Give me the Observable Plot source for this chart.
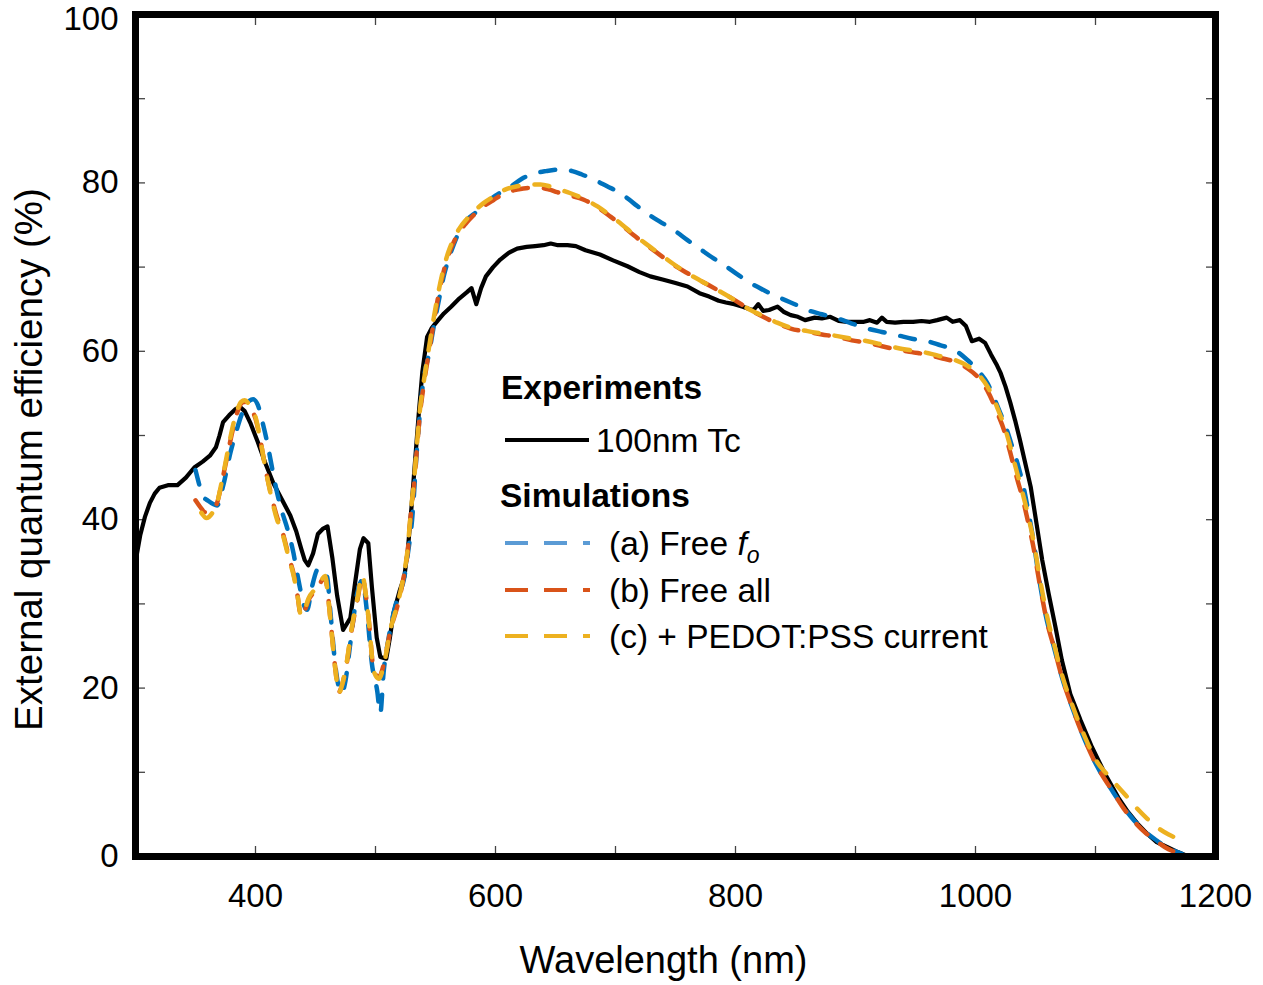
<!DOCTYPE html>
<html><head><meta charset="utf-8">
<script src="https://cdn.jsdelivr.net/npm/d3@7"></script>
<script src="https://cdn.jsdelivr.net/npm/@observablehq/plot@0.6"></script>
<style>
body{margin:0;background:#fff;}
#chart svg{display:block;}
</style></head><body><div id="chart"></div>
<script>
// ---------- data ----------
const expWl = [300,304,308,312,316,320,327,335,342,349,356,362,367,370,373,378,383,387,391,396,402,408,415,422,429,434,438,441,444,448,452,456,460,464,468,473,479,483,487,490,494,497,501,504,509,512,515,520,524,527,530,533,536,539,543,547,551,557,563,570,576,580,584,588,592,598,604,611,618,626,633,640,646,652,660,667,675,687,698,710,720,729,740,750,760,770,778,786,792,799,806,812,815,819,823,828,835,840,846,852,858,866,872,879,886,893,900,907,912,918,922,926,933,940,948,955,962,968,976,981,987,992,997,1003,1008,1013,1018,1021,1025,1029,1033,1037,1041,1046,1051,1055.6,1061,1066.7,1072,1079,1087.5,1097,1108,1119,1127,1135,1143,1151,1160,1169,1176];
const expEqe = [35.0,38.2,40.4,42.0,43.1,43.8,44.1,44.1,45.0,46.2,46.9,47.6,48.6,50.0,51.6,52.4,53.1,53.4,52.9,51.4,49.2,46.8,44.3,42.4,40.5,38.6,36.6,35.2,34.6,36.0,38.3,38.9,39.2,35.5,31.0,26.9,28.3,32.5,36.5,37.8,37.2,32.0,26.0,23.7,23.5,26.0,28.9,31.5,33.2,36.5,41.5,47.0,52.5,57.5,61.7,62.8,63.5,64.5,65.3,66.3,67.0,67.5,65.6,67.5,68.9,70.0,70.9,71.7,72.2,72.4,72.5,72.6,72.8,72.6,72.6,72.5,72.0,71.5,70.8,70.1,69.4,68.9,68.5,68.1,67.7,66.9,66.5,66.0,65.8,65.6,65.3,65.0,64.9,65.6,64.8,64.9,65.3,64.7,64.3,64.1,63.7,64.0,63.9,64.1,63.6,63.5,63.5,63.5,63.7,63.4,64.0,63.5,63.4,63.5,63.5,63.6,63.5,63.7,64.0,63.5,63.7,63.0,61.2,61.5,61.0,59.6,58.3,57.4,55.8,53.9,51.8,49.5,47.0,43.9,39.4,35.2,31.2,27.2,23.3,19.3,16.2,13.0,9.8,7.0,5.3,3.9,2.7,1.7,1.1,0.5,0.1];

const simAWl = [350,352.5,356,360,368,373,379,384,389,394,398,402,406,410,414,418,422,426,431.7,434.5,437.5,440,443,447,452.5,456,459.7,462.5,466.7,470,472,475,479,484.7,489,493,497,501.4,504,506.7,511,515,519,523.5,527,530.5,534.7,540,544.4,548.6,553,557,561,565,570,576,582,590,600,612,622,632,642,654,664,672,682,693,704,715,726,737,748.6,760,771,780,790,801,812.5,823,834.7,846,854,860,872,885,897,910,922,935,947,960,971,982,993,1004,1010,1015,1020,1026,1031,1035,1040,1044,1048,1052.8,1058.3,1065.3,1072,1080.6,1090,1101,1114,1123,1132,1141,1151,1158,1165,1172];
const simAEqe = [45.9,44.5,42.8,42.3,41.7,44.0,47.9,50.5,52.7,54.0,54.3,53.6,51.5,49.0,46.0,43.2,41.0,39.2,36.0,33.8,31.6,30.0,29.3,32.0,34.2,34.0,33.2,28.9,22.5,19.8,19.4,20.9,25.3,31.2,32.8,28.9,22.9,19.7,17.0,21.8,26.0,28.9,31.0,32.8,36.0,40.0,48.7,56.6,59.6,63.0,66.2,69.0,71.0,72.6,74.3,75.6,76.3,77.4,78.5,79.5,80.5,81.1,81.4,81.6,81.4,81.0,80.4,79.6,78.8,77.6,76.4,75.4,74.4,73.2,72.1,71.2,70.3,69.2,68.1,67.3,66.5,65.8,65.3,64.9,64.4,63.9,63.3,62.7,62.3,61.9,61.5,61.2,60.7,60.2,59.0,57.4,56.2,54.6,52.9,50.7,48.5,46.7,43.9,41.0,37.8,33.2,28.8,24.9,21.3,17.7,14.2,10.8,7.8,5.9,4.3,3.0,1.9,1.2,0.7,0.3];

const simBWl = [350,354,358,363,368,372,376.4,380,384.7,388,391,395,400,404,408,413,418,422,425,428,431.7,435,438,441,444,450,454,458,460,462.5,466.7,469.4,472,475,480.6,485,489,492,494.4,498.6,502.8,507,512.5,518,523.5,527,529,532,534.7,537,540,544.4,548.6,552.8,557,561,565,570,576,582,590,598.6,608,618,628,637.5,645,651.4,662,673.6,685,695.8,705,715,726,737.5,748,759.7,772,784.7,798,812.5,823,834.7,846,860,872,885,897,910,922,935,947,960,971,982,993,1004,1010,1015,1019,1023.6,1028,1032,1035,1039,1044,1048.6,1052,1056,1060,1065.3,1072,1080.6,1090,1101,1114,1123,1132,1141,1151,1158,1165,1172];
const simBEqe = [42.3,41.5,40.9,41.0,42.0,44.5,47.5,50.0,52.7,53.8,54.0,53.4,52.0,49.5,46.3,43.0,40.3,38.8,37.2,35.5,33.6,31.0,28.5,29.2,30.4,31.6,32.5,33.2,31.5,28.1,22.1,19.5,20.3,22.1,27.3,30.5,33.2,31.0,28.1,22.1,21.3,22.9,26.9,29.6,33.2,36.5,40.0,44.0,48.7,52.5,55.8,59.8,63.5,66.9,69.6,71.5,72.9,74.2,75.3,76.2,77.2,78.0,78.8,79.2,79.4,79.4,79.2,78.9,78.5,78.0,77.1,76.0,75.0,73.8,72.6,71.4,70.3,69.3,68.3,67.3,66.2,64.9,64.1,63.3,62.7,62.3,62.0,61.7,61.3,61.0,60.6,60.2,59.9,59.6,59.2,58.8,58.0,56.6,55.3,53.8,52.4,50.7,48.5,46.3,44.7,42.7,39.6,36.5,33.6,30.4,27.6,24.9,21.3,17.7,14.2,10.8,7.8,5.8,4.2,2.9,1.8,1.1,0.6,0.2];

const simCWl = [351,355,359,364,368,372,376.4,380,384.7,388,391,395,400,404,408,413,418,422,425,428,431.7,435,438,441,444,450,454,458,460,462.5,466.7,469.4,472,475,480.6,485,489,492,494.4,498.6,502.8,507,512.5,518,523.5,527,529,532,534.7,537,540,544.4,548.6,552.8,557,561,565,570,576,582,590,598.6,608,618,628,637.5,645,651.4,662,673.6,685,695.8,705,715,726,737.5,748,759.7,772,784.7,798,812.5,823,834.7,846,860,872,885,897,910,922,935,947,960,971,982,993,1004,1010,1015,1019,1023.6,1028,1032,1035,1039,1044,1048.6,1052,1056,1060,1065.3,1072,1080.6,1090,1101,1110,1118,1125,1134,1143,1152,1161,1169,1177];
const simCEqe = [41.6,40.8,40.2,40.8,42.0,44.6,47.8,50.4,53.0,54.0,54.2,53.6,52.2,49.5,46.3,42.8,40.0,38.6,37.0,35.3,33.4,31.0,28.6,29.3,30.6,31.8,32.6,33.3,31.5,28.0,22.0,19.4,20.3,22.2,27.5,30.7,33.4,31.0,28.0,22.0,21.1,22.8,27.0,29.8,33.4,36.8,40.3,44.5,49.2,53.0,56.2,60.3,64.0,67.3,70.0,71.9,73.3,74.6,75.7,76.6,77.6,78.4,79.2,79.6,79.8,79.8,79.6,79.3,78.8,78.1,77.2,76.1,75.1,73.9,72.7,71.5,70.4,69.3,68.3,67.3,66.2,64.9,64.2,63.4,62.8,62.4,62.1,61.8,61.5,61.2,60.8,60.4,60.1,59.8,59.4,59.0,58.3,57.0,55.8,54.4,53.0,51.3,49.2,47.0,45.4,43.3,40.4,37.3,34.4,31.2,28.3,25.3,21.6,18.0,14.6,11.3,9.7,8.4,7.3,5.8,4.5,3.4,2.6,2.1,1.7];

const xTickMarks = [300,400,500,600,700,800,900,1000,1100,1200];
const xTickLabels = [400,600,800,1000,1200];
const yTickMarks = [0,10,20,30,40,50,60,70,80,90,100];
const yTickLabels = [0,20,40,60,80];
const yTopLabel = [100];
const xTitle = "Wavelength (nm)";
const yTitle = "External quantum efficiency (%)";

const seriesColors = ["#0072BD", "#D95319", "#EDB120"];
const legendColors = ["#5B9BD5", "#D95319", "#EDB120"];
const legendLabels = ["(a) Free ", "(b) Free all", "(c) + PEDOT:PSS current"];

// ---------- tables ----------
const toRows = (wl, v) => wl.map((x, i) => ({x, y: v[i]}));
const expRows = toRows(expWl, expEqe);
const aRows = toRows(simAWl, simAEqe);
const bRows = toRows(simBWl, simBEqe);
const cRows = toRows(simCWl, simCEqe);

const font = '"Liberation Sans", Arial, Helvetica, sans-serif';
const tickStyle = {tickSize: -10, fill: "none", stroke: "#444", strokeWidth: 1.3, label: null};
const yLab = {anchor: "left", tickSize: 0, tickPadding: 17, fontSize: 33, fill: "black", tickFormat: d => String(d), label: null};
const dash = {strokeWidth: 4.5, strokeDasharray: "15,16", curve: "monotone-x"};

const chart = Plot.plot({
  width: 1263, height: 985,
  marginLeft: 135, marginRight: 48, marginTop: 14, marginBottom: 129,
  style: {fontFamily: font, background: "white", color: "black", overflow: "visible"},
  x: {domain: [300, 1200]},
  y: {domain: [0, 100]},
  marks: [
    Plot.axisX({ticks: xTickMarks, anchor: "bottom", ...tickStyle}),
    Plot.axisX({ticks: xTickMarks, anchor: "top", ...tickStyle}),
    Plot.axisY({ticks: yTickMarks, anchor: "left", ...tickStyle}),
    Plot.axisY({ticks: yTickMarks, anchor: "right", ...tickStyle}),
    Plot.axisX({ticks: xTickLabels, anchor: "bottom", tickSize: 0, tickPadding: 27, fontSize: 33, fill: "black", tickFormat: d => String(d), label: null}),
    Plot.axisY({ticks: yTickLabels, ...yLab}),
    Plot.axisY({ticks: yTopLabel, ...yLab, dy: 5}),
    Plot.line(expRows, {x: "x", y: "y", stroke: "black", strokeWidth: 4.2}),
    Plot.line(aRows, {x: "x", y: "y", stroke: seriesColors[0], ...dash}),
    Plot.line(bRows, {x: "x", y: "y", stroke: seriesColors[1], ...dash}),
    Plot.line(cRows, {x: "x", y: "y", stroke: seriesColors[2], ...dash, strokeDashoffset: -8}),
    Plot.frame({stroke: "black", strokeWidth: 7}),
    Plot.text([xTitle], {text: d => d, frameAnchor: "bottom", textAnchor: "middle", dx: -12, dy: 104, fontSize: 38, lineAnchor: "middle"}),
    Plot.text([yTitle], {text: d => d, frameAnchor: "left", textAnchor: "middle", rotate: -90, dx: -106, dy: 24, fontSize: 38.5, lineAnchor: "middle"})
  ]
});
document.getElementById("chart").appendChild(chart);

// ---------- in-plot legend ----------
const svg = d3.select(chart);
const lg = svg.append("g").attr("font-family", font).attr("fill", "black")
  .attr("font-size", 33.5).attr("text-anchor", "start");
lg.append("text").attr("x", 501).attr("y", 398.5).attr("font-weight", "bold").text("Experiments");
lg.append("line").attr("x1", 505).attr("x2", 589).attr("y1", 440).attr("y2", 440)
  .attr("stroke", "black").attr("stroke-width", 4);
lg.append("text").attr("x", 596).attr("y", 451.5).text("100nm Tc");
lg.append("text").attr("x", 500).attr("y", 506.5).attr("font-weight", "bold").text("Simulations");
const rowY = [543, 590, 636];
legendLabels.forEach((lab, i) => {
  lg.append("line").attr("x1", 505).attr("x2", 590).attr("y1", rowY[i]).attr("y2", rowY[i])
    .attr("stroke", legendColors[i]).attr("stroke-width", 4).attr("stroke-dasharray", "23,16");
  const t = lg.append("text").attr("x", 609).attr("y", rowY[i] + 12);
  t.append("tspan").text(lab);
  if (i === 0) {
    t.append("tspan").attr("font-style", "italic").text("f");
    t.append("tspan").attr("font-style", "italic").attr("font-size", 23).attr("dy", 8).text("o");
  }
});
</script></body></html>
